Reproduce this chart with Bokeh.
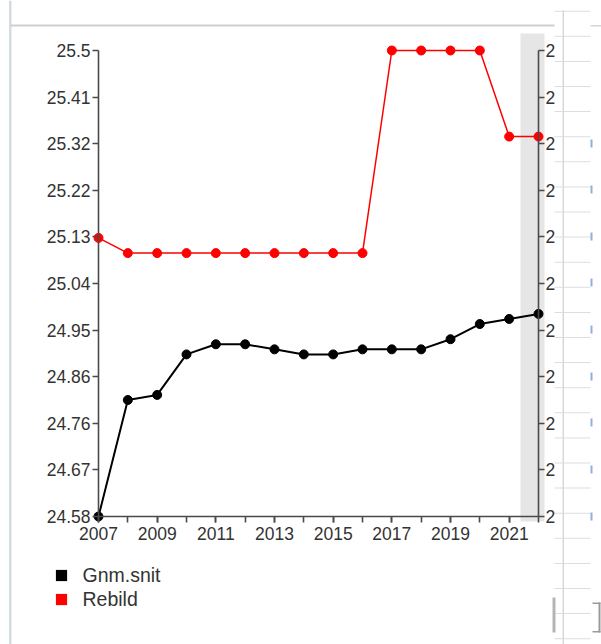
from bokeh.plotting import figure
from bokeh.models import Range1d, LinearAxis, FixedTicker, BoxAnnotation, Legend, LegendItem
from bokeh.embed import file_html
from bokeh.resources import INLINE
import numpy as np

# ---------------- data ----------------
years = list(range(2007, 2023))
gnm_snit = [24.58, 24.81, 24.82, 24.90, 24.92, 24.92, 24.91, 24.90, 24.90, 24.91,
            24.91, 24.91, 24.93, 24.96, 24.97, 24.98]
rebild = [25.13, 25.10, 25.10, 25.10, 25.10, 25.10, 25.10, 25.10, 25.10, 25.10,
          25.50, 25.50, 25.50, 25.50, 25.33, 25.33]
series_names = ["Gnm.snit", "Rebild"]
series_colors = ["#000000", "#ff0000"]
y_tick_labels = ["24.58", "24.67", "24.76", "24.86", "24.95", "25.04",
                 "25.13", "25.22", "25.32", "25.41", "25.5"]
x_tick_labels = ["2007", "2009", "2011", "2013", "2015", "2017", "2019", "2021"]
right_tick_label = "2"
y_min, y_max = 24.58, 25.5
x_min, x_max = years[0], years[-1]

# ---------------- layout (canvas px) ----------------
W, H = 601, 644
FL, FR, FT, FB = 98, 538, 50, 516   # where the data extent sits
px_x = (FR - FL) / (x_max - x_min)
px_y = (FB - FT) / (y_max - y_min)

p = figure(width=W, height=H,
           x_range=Range1d(x_min - FL / px_x, x_max + (W - FR) / px_x),
           y_range=Range1d(y_min - (H - FB) / px_y, y_max + FT / px_y),
           toolbar_location=None, output_backend="svg",
           x_axis_location=None, y_axis_location=None,
           min_border=0, min_border_left=0, min_border_right=0,
           min_border_top=0, min_border_bottom=0)
p.grid.grid_line_color = None
p.outline_line_color = None
p.background_fill_color = "white"
p.border_fill_color = "white"

FONT = "Liberation Sans"
AX_COLOR = "#4a4a4a"
TXT_COLOR = "#333333"

def style(ax, standoff=2):
    ax.axis_line_color = AX_COLOR
    ax.axis_line_width = 1.6
    ax.major_tick_line_color = AX_COLOR
    ax.major_tick_line_width = 1.6
    ax.major_tick_out = 6
    ax.major_tick_in = 0
    ax.minor_tick_line_color = None
    ax.major_label_text_font = FONT
    ax.major_label_text_font_size = "17.5px"
    ax.major_label_text_color = TXT_COLOR
    ax.major_label_standoff = standoff

y_ticks = [float(v) for v in np.linspace(y_min, y_max, len(y_tick_labels))]

left = LinearAxis(ticker=FixedTicker(ticks=y_ticks), fixed_location=x_min,
                  bounds=(y_min, y_max),
                  major_label_overrides=dict(zip(y_ticks, y_tick_labels)))
style(left)
p.add_layout(left, "left")

right = LinearAxis(ticker=FixedTicker(ticks=y_ticks), fixed_location=x_max,
                   bounds=(y_min, y_max),
                   major_label_overrides={t: right_tick_label for t in y_ticks})
style(right, 1)
p.add_layout(right, "right")

x_ticks = [int(s) for s in x_tick_labels]
bottom = LinearAxis(ticker=FixedTicker(ticks=x_ticks, minor_ticks=years),
                    fixed_location=y_min, bounds=(x_min, x_max),
                    major_label_overrides=dict(zip(x_ticks, x_tick_labels)))
style(bottom, 4)
bottom.minor_tick_line_color = AX_COLOR
bottom.minor_tick_line_width = 1.6
bottom.minor_tick_out = 6
bottom.minor_tick_in = 0
p.add_layout(bottom, "below")

def cbox(l, t, r, b, c):
    return BoxAnnotation(left=l, right=r, top=t, bottom=b,
                         left_units="canvas", right_units="canvas",
                         top_units="canvas", bottom_units="canvas",
                         fill_color=c, fill_alpha=1, line_color=None,
                         level="underlay")

# grey band behind right edge
p.add_layout(cbox(520, 33, 544, 521, "#e6e6e6"))

# page decoration lines: left, top, right, bottom, colour
decor = [(8.5, 0, 11, H, "#d3dbe3"),
         (10, 24, 554, 26, "#cfcfcf"),
         (590, 24.5, 601, 26, "#d6d6d6"),
         (562, 10, 563.5, H, "#d8d8d8")]
yy = 10.2
while yy < H:
    decor.append((554, yy, 590, yy + 1, "#dddddd"))
    yy += 25.1
for yb in [143, 189, 236, 282, 329, 376, 422, 469, 516]:
    decor.append((590, yb - 4, 592, yb + 4, "#8fb0dc"))
decor += [(552, 597, 555, 632, "#b5b5b5"),
          (598, 602, 600, 632, "#9a9a9a"),
          (592, 602, 600, 603.5, "#9a9a9a"),
          (592, 630.5, 600, 632, "#9a9a9a")]
for d in decor:
    p.add_layout(cbox(*d))

# series
for name, ys, col in zip(series_names, [gnm_snit, rebild], series_colors):
    p.line(years, ys, line_color=col, line_width=2 if col == "#000000" else 1.5)
    p.scatter(years, ys, size=9, color=col)

# legend with square swatches (renderers hold no visible points)
items = []
for name, col in zip(series_names, series_colors):
    r = p.quad(left=[np.nan], right=[np.nan], top=[np.nan], bottom=[np.nan],
               fill_color=col, line_color=None)
    items.append(LegendItem(label=name, renderers=[r]))
legend = Legend(items=items, location=(53.5, H - 610.5), glyph_width=14, glyph_height=14,
                label_standoff=15, spacing=1, padding=0, margin=0,
                border_line_color=None, background_fill_alpha=0,
                label_text_font=FONT, label_text_font_size="19.5px",
                label_text_color=TXT_COLOR)
p.add_layout(legend)

open("out.html", "w").write(file_html(p, INLINE))
